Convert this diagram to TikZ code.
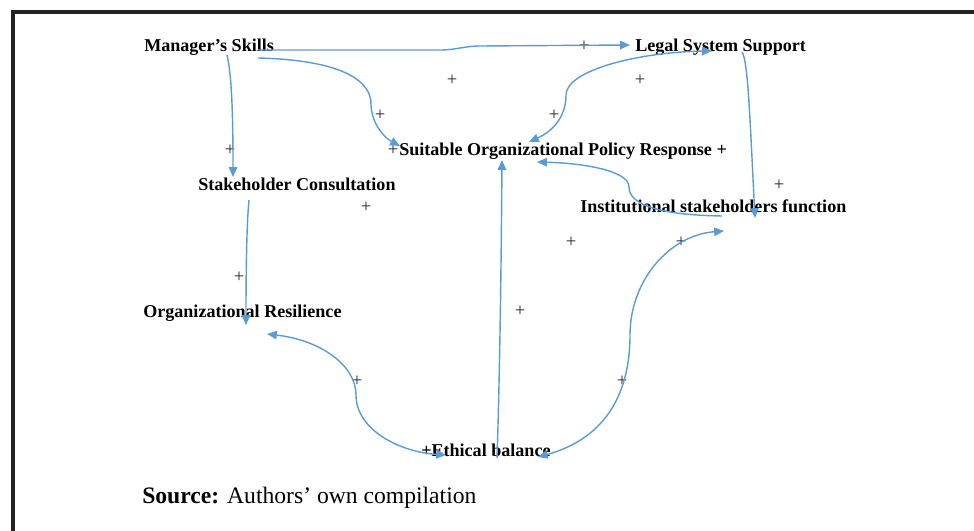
\documentclass[tikz,border=0pt]{standalone}
\usepackage{fontspec}
\setmainfont{Liberation Serif}
\usetikzlibrary{arrows.meta,calc}
\definecolor{linkblue}{HTML}{5B9BD5}
\definecolor{framegray}{HTML}{222222}

\begin{document}
\begin{tikzpicture}[x=0.025cm, y=-0.025cm,
        factor/.style = {anchor=base west, inner sep=0pt, font=\fontsize{12.85}{15}\selectfont\bfseries},
        plus/.style = {inner sep=0pt, text=black!85, font=\fontsize{13.2}{15}\selectfont},
        link/.style = {draw=linkblue, line width=1pt, -{Triangle[length=7pt,width=6pt]}},
        twoway/.style = {link, {Triangle[length=7pt,width=6pt]}-{Triangle[length=7pt,width=6pt]}}]
            \useasboundingbox (0,0) rectangle (974,531);
            \draw [framegray, line width=2.9pt] (13,560) -- (13,12) -- (1000,12);

            \node [factor] (ms) at (144,52) {Manager’s Skills};
            \node [factor] (lss) at (635,52) {Legal System Support};
            \node [factor] (suit) at (399,156) {Suitable Organizational Policy Response +};
            \node [factor] (sc) at (198,191) {Stakeholder Consultation};
            \node [factor] (if) at (580,213) {Institutional stakeholders function};
            \node [factor] (or) at (143,317) {Organizational Resilience};
            \node [factor] (eb) at (421,456) {+Ethical balance};
            \node [anchor=base west, inner sep=0pt, font=\fontsize{16.8}{20}\selectfont] (src) at (142,503)
                {\textbf{Source:} Authors’ own compilation};

            \foreach \px/\py [count=\i] in {584/46, 452/80, 640/80, 380/115, 554/115, 230/150, 393/150,
                    366/207, 779/185, 571/242, 681/242, 239/277, 520/311, 357/381, 622/381}
                \node [plus] (p\i) at (\px,\py) {+};

            \draw [link] ($(ms.base east)+(-16,-2)$) -- ++(182,0) to[out=0,in=180] ++(40,-4)
                -- ($(lss.base west)+(-5,-7)$);
            \draw [link] ($(ms.base east)+(-16,6)$) .. controls (340,60) and (372,80) .. (371,105)
                .. controls (372,125) and (385,138) .. ($(suit.base west)+(1,-10)$);
            \draw [link] ($(ms.base west)+(83,3)$) .. controls (232,75) and (233,120) .. ($(sc.base west)+(35,-14)$);
            \draw [link] ($(sc.base west)+(51,9)$) .. controls (247,220) and (246,260) .. ($(or.base west)+(103,8)$);
            \draw [twoway] ($(or.base west)+(124,17)$) .. controls (320,340) and (356,365) .. (356,395)
                .. controls (356,430) and (400,452) .. ($(eb.base west)+(25,-1)$);
            \draw [link] ($(eb.base west)+(76,2)$) .. controls (499,400) and (501,300) .. ($(suit.base west)+(103,4)$);
            \draw [twoway] ($(eb.base east)+(-13,1)$) .. controls (600,440) and (630,400) .. (630,335)
                .. controls (630,280) and (670,235) .. ($(if.base west)+(144,18)$);
            \draw [twoway] ($(suit.base west)+(130,-14)$) .. controls (555,130) and (566,115) .. (566,95)
                .. controls (566,70) and (640,52) .. ($(lss.base west)+(77,-1)$);
            \draw [link] ($(lss.base west)+(107,0)$) .. controls (748,60) and (750,120) .. ($(if.base west)+(175,5)$);
            \draw [link] ($(if.base west)+(142,3)$) .. controls (660,215) and (629,205) .. (629,187)
                .. controls (629,170) and (580,163) .. ($(suit.base west)+(138,6)$);
        \end{tikzpicture}
\end{document}
